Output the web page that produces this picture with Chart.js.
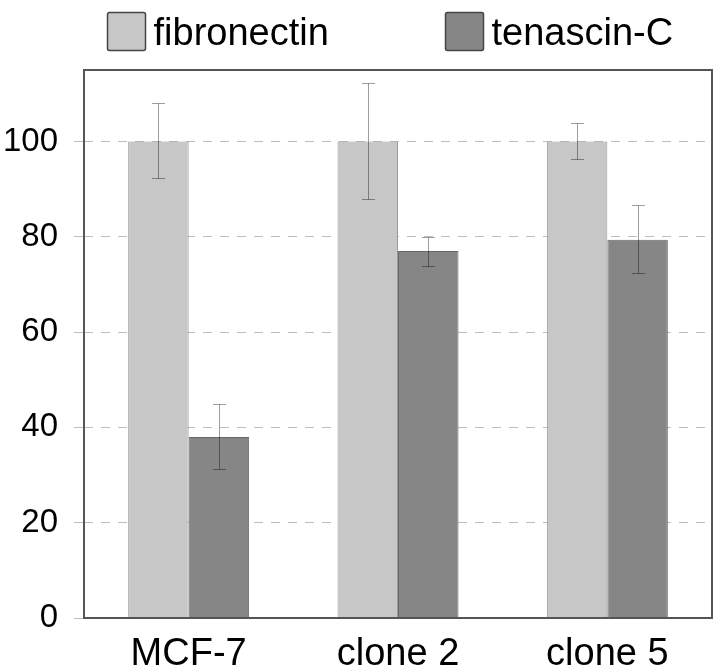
<!DOCTYPE html>
<html>
<head>
<meta charset="utf-8">
<script src="https://cdn.jsdelivr.net/npm/chart.js@4"></script>
<style>
  html, body { margin: 0; padding: 0; background: #fff; }
  #wrap { width: 720px; height: 668px; position: relative; }
</style>
</head>
<body>
<div id="wrap"><canvas id="chart" width="720" height="668"></canvas></div>
<script>
/* bar chart - fibronectin / tenascin-C per cell line */

const categories = ['MCF-7', 'clone 2', 'clone 5'];
const seriesNames = ['fibronectin', 'tenascin-C'];
const fibronectin = [100, 100, 100];
const tenascin = [38, 77, 79.4];
const fibLow = [92.4, 88, 96.3];
const fibHigh = [108, 112.2, 103.9];
const tenLow = [31.2, 73.9, 72.5];
const tenHigh = [44.9, 80, 86.6];
const yTicks = [0, 20, 40, 60, 80, 100];

const font = '"Liberation Sans", Arial, sans-serif';

const errorBars = {
    id: 'errorBars',
    afterDatasetsDraw(chart) {
        const ctx = chart.ctx;
        const y = chart.scales.y;
        const ranges = [[fibLow, fibHigh], [tenLow, tenHigh]];
        ctx.save();
        ctx.strokeStyle = 'rgba(0,0,0,0.38)';
        ctx.lineWidth = 1;
        ranges.forEach((r, di) => {
            chart.getDatasetMeta(di).data.forEach((bar, i) => {
                const x = Math.round(bar.x) + 0.5;
                const y1 = Math.round(y.getPixelForValue(r[0][i])) + 0.5;
                const y2 = Math.round(y.getPixelForValue(r[1][i])) + 0.5;
                ctx.beginPath();
                ctx.moveTo(x, y1); ctx.lineTo(x, y2);
                ctx.moveTo(x - 6.5, y1); ctx.lineTo(x + 6.5, y1);
                ctx.moveTo(x - 6.5, y2); ctx.lineTo(x + 6.5, y2);
                ctx.stroke();
            });
        });
        ctx.restore();
    }
};

const frame = {
    id: 'frame',
    afterDraw(chart) {
        const a = chart.chartArea;
        const ctx = chart.ctx;
        ctx.save();
        ctx.strokeStyle = '#555';
        ctx.lineWidth = 2;
        ctx.strokeRect(a.left, a.top, a.right - a.left, a.bottom - a.top);
        ctx.restore();
    }
};

// legend drawn by hand so it sits where the original has it
const legendBoxes = {
    id: 'legendBoxes',
    afterDraw(chart) {
        const ctx = chart.ctx;
        const xs = [107.5, 445.5];
        ctx.save();
        ctx.font = '38px ' + font;
        ctx.textBaseline = 'alphabetic';
        chart.data.datasets.forEach((ds, i) => {
            ctx.fillStyle = ds.backgroundColor;
            ctx.strokeStyle = '#444';
            ctx.lineWidth = 1.5;
            ctx.beginPath();
            ctx.roundRect(xs[i], 12.5, 38, 38, 2);
            ctx.fill();
            ctx.stroke();
            ctx.fillStyle = '#000';
            ctx.fillText(ds.label, xs[i] + 46, 45);
        });
        ctx.restore();
    }
};

new Chart(document.getElementById('chart'), {
    type: 'bar',
    data: {
        labels: categories,
        datasets: [
            {
                label: seriesNames[0],
                data: fibronectin,
                backgroundColor: '#c7c7c7',
                borderColor: '#999',
                borderWidth: 1
            },
            {
                label: seriesNames[1],
                data: tenascin,
                backgroundColor: '#868686',
                borderColor: '#666',
                borderWidth: 1
            }
        ]
    },
    options: {
        responsive: false,
        animation: false,
        layout: { padding: { top: 70, right: 8, left: 0, bottom: 0 } },
        datasets: { bar: { categoryPercentage: 0.578, barPercentage: 1 } },
        plugins: { legend: { display: false }, tooltip: { enabled: false } },
        scales: {
            x: {
                grid: { display: false },
                border: { display: false },
                ticks: { color: '#000', font: { family: font, size: 38 }, padding: 6 },
                afterFit(s) { s.height = 50; }
            },
            y: {
                min: 0,
                max: 115,
                afterBuildTicks(s) { s.ticks = yTicks.map(v => ({ value: v })); },
                grid: {
                    color: '#bdbdbd',
                    lineWidth: 1,
                    tickLength: 10,
                    tickColor: '#bdbdbd',
                    tickBorderDash: [9, 8]
                },
                border: { display: false, dash: [9, 8] },
                ticks: { color: '#000', font: { family: font, size: 33 }, padding: 16 },
                afterFit(s) { s.width = 84; }
            }
        }
    },
    plugins: [errorBars, frame, legendBoxes]
});
</script>
</body>
</html>
